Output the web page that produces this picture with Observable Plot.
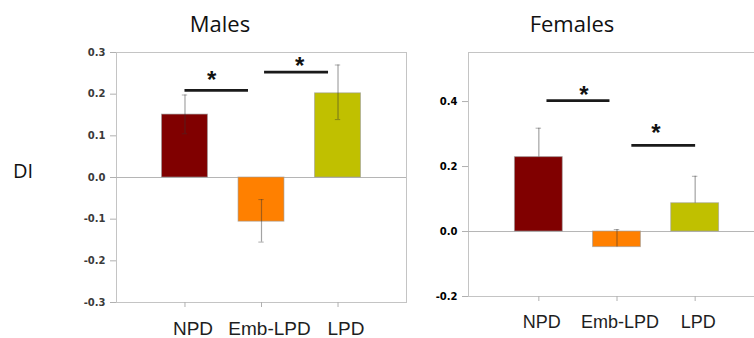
<!DOCTYPE html>
<html>
<head>
<meta charset="utf-8">
<script src="https://cdn.jsdelivr.net/npm/d3@7"></script>
<script src="https://cdn.jsdelivr.net/npm/@observablehq/plot@0.6"></script>
<style>
  body { margin: 0; background: #fff; }
  #root { position: relative; width: 754px; height: 338px; overflow: hidden; background: #fff; }
  .lbl { position: absolute; font-family: "Open Sans", sans-serif; color: #111; line-height: 1; white-space: nowrap; }
  svg { position: absolute; top: 0; }
</style>
</head>
<body>
<div id="root">
  <div class="lbl" id="tm" style="font-size:22px; top:12px; left:220px; transform:translateX(-50%)">Males</div>
  <div class="lbl" id="tf" style="font-size:22px; top:12px; left:572px; transform:translateX(-50%)">Females</div>
  <div class="lbl" id="di" style="font-size:20px; top:161px; left:13px">DI</div>
</div>
<script>
// ---- data ----
const categories = ["NPD", "Emb-LPD", "LPD"];
const barColors = ["#800000", "#FF8000", "#C0C000"];

const maleValues  = [0.151, -0.106, 0.202];
const maleErrLow  = [0.105, -0.155, 0.139];
const maleErrHigh = [0.198, -0.053, 0.270];
const maleTicks   = [-0.3, -0.2, -0.1, 0.0, 0.1, 0.2, 0.3];
const maleSigFrom = [0, 1.04];
const maleSigTo   = [0.83, 1.876];
const maleSigY    = [0.209, 0.253];
const maleStarX   = [0.35, 1.50];
const maleStarY   = [0.241, 0.273];

const femaleValues  = [0.229, -0.048, 0.087];
const femaleErrHigh = [0.318, 0.006, 0.170];
const femaleTicks   = [-0.2, 0.0, 0.2, 0.4];
const femaleSigFrom = [0.104, 1.19];
const femaleSigTo   = [0.91, 2.006];
const femaleSigY    = [0.403, 0.265];
const femaleStarX   = [0.578, 1.497];
const femaleStarY   = [0.429, 0.311];

function panel({values, lo, hi, loCaps, ticks, yDomain, xDomain, sigFrom, sigTo, sigY, starX, starY,
                width, marginLeft, marginRight, marginTop, marginBottom, tickFill, labelSize, labelDx, halfW}) {
  const bars = categories.map((c, i) => ({i, c, v: values[i], color: barColors[i], lo: lo[i], hi: hi[i]}));
  const sig = sigY.map((y, k) => ({y, x1: sigFrom[k], x2: sigTo[k], sx: starX[k], sy: starY[k]}));
  const capW = 0.035;
  return Plot.plot({
    width, height: 338,
    marginLeft, marginRight, marginTop, marginBottom,
    x: {type: "linear", domain: xDomain},
    y: {domain: yDomain},
    color: {type: "identity"},
    style: {background: "transparent", overflow: "visible"},
    marks: [
      Plot.frame({stroke: "#c4c4c4", strokeWidth: 1}),
      Plot.ruleY([0], {stroke: "#b5b5b5"}),
      Plot.rectY(bars, {x1: d => d.i - halfW, x2: d => d.i + halfW, y1: 0, y2: "v", fill: "color",
                        stroke: "#9a9a9a", strokeOpacity: 0.6, strokeWidth: 1}),
      Plot.ruleX(bars, {x: "i", y1: "lo", y2: "hi", stroke: "#333", strokeOpacity: 0.45, strokeWidth: 1.2}),
      Plot.ruleY(bars, {y: "hi", x1: d => d.i - capW, x2: d => d.i + capW, stroke: "#333", strokeOpacity: 0.4}),
      loCaps ? Plot.ruleY(bars, {y: "lo", x1: d => d.i - capW, x2: d => d.i + capW, stroke: "#333", strokeOpacity: 0.4}) : null,
      Plot.ruleY(sig, {y: "y", x1: "x1", x2: "x2", stroke: "#1a1a1a", strokeWidth: 2.6}),
      Plot.text(sig, {x: "sx", y: "sy", text: () => "*", fontSize: 24, fontWeight: "bold", fill: "#111",
                      fontFamily: "Liberation Sans, Arial, sans-serif", dy: 3}),
      Plot.axisY({ticks, tickFormat: d => d.toFixed(1), tickSize: 6, tickPadding: 5, stroke: "#b0b0b0",
                  fill: tickFill, fontSize: 10, fontWeight: "bold", fontFamily: "DejaVu Sans, sans-serif", label: null}),
      Plot.axisX({ticks: [0, 1, 2], tickSize: 5, fill: "none", stroke: "#b0b0b0", label: null}),
      Plot.axisX({ticks: [0, 1, 2], tickFormat: i => categories[i], tickSize: 0, tickPadding: 19, dx: labelDx,
                  fill: "#1e1e1e", fontSize: labelSize, fontFamily: "Liberation Sans, Arial, sans-serif", label: null})
    ]
  });
}

const root = document.getElementById("root");

const males = panel({
  values: maleValues, lo: maleErrLow, hi: maleErrHigh, loCaps: true,
  ticks: maleTicks, yDomain: [-0.3, 0.3], xDomain: [-0.895, 2.895],
  sigFrom: maleSigFrom, sigTo: maleSigTo, sigY: maleSigY, starX: maleStarX, starY: maleStarY,
  width: 410, marginLeft: 116, marginRight: 4, marginTop: 52, marginBottom: 36,
  tickFill: "#3a3a3a", labelSize: 19, labelDx: 8, halfW: 0.30
});
males.style.left = "0px";
root.appendChild(males);

const females = panel({
  values: femaleValues, lo: femaleValues, hi: femaleErrHigh, loCaps: false,
  ticks: femaleTicks, yDomain: [-0.2, 0.551], xDomain: [-0.9, 2.9],
  sigFrom: femaleSigFrom, sigTo: femaleSigTo, sigY: femaleSigY, starX: femaleStarX, starY: femaleStarY,
  width: 400, marginLeft: 68, marginRight: 35, marginTop: 52, marginBottom: 42,
  tickFill: "#000", labelSize: 18, labelDx: 3, halfW: 0.306
});
females.style.left = "400px";
root.appendChild(females);
</script>
</body>
</html>
